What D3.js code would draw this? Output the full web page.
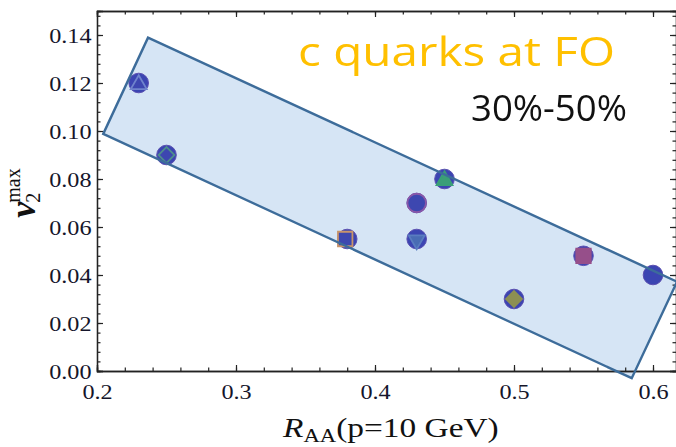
<!DOCTYPE html>
<html><head><meta charset="utf-8">
<script src="https://cdn.jsdelivr.net/npm/d3@7"></script>
<style>
html,body{margin:0;padding:0;background:#fff;}
svg{display:block;}
</style></head>
<body>
<script>
// ---- data ----
const raa   = [0.23, 0.25, 0.38, 0.43, 0.43, 0.45, 0.50, 0.55, 0.60];
const v2max = [0.12, 0.09, 0.055, 0.07, 0.055, 0.08, 0.03, 0.048, 0.04];
const innerShape = ["triangle","diamond","square","circle","triangleDown","triangle","diamond","square","none"];
const bandX = [0.2045, 0.2367, 0.6173, 0.5847];
const bandY = [0.0988, 0.1389, 0.0372, -0.003];
const xMajor = [0.2, 0.3, 0.4, 0.5, 0.6];
const xMinor = d3.range(0.2, 0.62, 0.02);
const yMajor = [0, 0.02, 0.04, 0.06, 0.08, 0.10, 0.12, 0.14];
const yMinor = d3.range(0, 0.1501, 0.004);
const titleText = "c quarks at FO";
const centText = "30%-50%";

// ---- styles ----
const innerFill   = ["#3e46b0","#3e46b0","#3e46b0","#3e46b0","#4a6cb4","#3a9e78","#8d8f52","#96508a",null];
const innerStroke = ["#6f84cc","#4f8f8c","#c8946a","#8a58a8","#5a7cc0","#3a9e78","#8d8f52","#96508a",null];

const W = 676, H = 447;
const L = 97, R = 677, T = 11, B = 371;
const x = d3.scaleLinear().domain([0.2, 0.2 + (R - L) / 1390]).range([L, R]);
const y = d3.scaleLinear().domain([0, 0.15]).range([B, T]);

const svg = d3.select("body").append("svg").attr("width", W).attr("height", H);

// band fill
const band = bandX.map((d, i) => [x(d), y(bandY[i])]);
svg.append("path").attr("d", "M" + band.join("L") + "Z")
  .attr("fill", "#d6e5f5").attr("stroke", "none");

// frame & axes
function styleAxis(g) {
  g.select(".domain").attr("stroke", "#222").attr("stroke-width", 1.3);
  g.selectAll(".tick line").attr("stroke", "#222").attr("stroke-width", 1.2);
}
const fmtY = d3.format(".2f"), fmtX = d3.format(".1f");
// bottom
svg.append("g").attr("transform", `translate(0,${B})`)
  .call(d3.axisBottom(x).tickValues(xMinor).tickSize(-3.5).tickFormat("")).call(styleAxis);
const gb = svg.append("g").attr("transform", `translate(0,${B})`)
  .call(d3.axisBottom(x).tickValues(xMajor).tickSize(-6).tickPadding(12).tickFormat(fmtX)).call(styleAxis);
// top
svg.append("g").attr("transform", `translate(0,${T})`)
  .call(d3.axisTop(x).tickValues(xMinor).tickSize(-3.5).tickFormat("")).call(styleAxis);
svg.append("g").attr("transform", `translate(0,${T})`)
  .call(d3.axisTop(x).tickValues(xMajor).tickSize(-6).tickFormat("")).call(styleAxis);
// left
svg.append("g").attr("transform", `translate(${L},0)`)
  .call(d3.axisLeft(y).tickValues(yMinor).tickSize(-3.5).tickFormat("")).call(styleAxis);
const gl = svg.append("g").attr("transform", `translate(${L},0)`)
  .call(d3.axisLeft(y).tickValues(yMajor).tickSize(-6).tickPadding(5).tickFormat(fmtY)).call(styleAxis);
// right
svg.append("g").attr("transform", `translate(${R - 1},0)`)
  .call(d3.axisRight(y).tickValues(yMinor).tickSize(-3.5).tickFormat("")).call(styleAxis);
svg.append("g").attr("transform", `translate(${R - 1},0)`)
  .call(d3.axisRight(y).tickValues(yMajor).tickSize(-6).tickFormat("")).call(styleAxis);

[gb, gl].forEach(g => g.selectAll(".tick text")
  .attr("font-family", "'Liberation Serif','Times New Roman',serif")
  .attr("font-size", 22).attr("fill", "#15152a"));
gb.selectAll(".tick text").attr("dy", "0.71em").attr("transform", "scale(1.1,1)");
gl.selectAll(".tick text").attr("x", -5).attr("transform", "scale(1.1,1)");

// points
const defs = svg.append("defs");
defs.append("filter").attr("id", "soft").attr("x", "-30%").attr("y", "-30%").attr("width", "160%").attr("height", "160%")
  .append("feGaussianBlur").attr("stdDeviation", 0.55);

const pts = svg.append("g").attr("filter", "url(#soft)");
raa.forEach((d, i) => {
  const cx = x(d), cy = y(v2max[i]);
  const g = pts.append("g").attr("transform", `translate(${cx},${cy})`);
  g.append("circle").attr("r", 9.8).attr("fill", "#3b44b2")
    .attr("stroke", "#5a4fb0").attr("stroke-width", 1);
  const s = innerShape[i];
  if (s === "none") return;
  let path;
  if (s === "triangle" || s === "triangleDown") path = d3.symbol(d3.symbolTriangle, 110)();
  else if (s === "diamond") path = d3.symbol(d3.symbolSquare, 125)();
  else if (s === "square") path = d3.symbol(d3.symbolSquare, 210)();
  else path = d3.symbol(d3.symbolCircle, 270)();
  const p = g.append("path").attr("d", path)
    .attr("fill", innerFill[i]).attr("stroke", innerStroke[i]).attr("stroke-width", 1.8);
  if (s === "triangle") p.attr("transform", "translate(0,1.5)");
  if (s === "triangleDown") p.attr("transform", "rotate(180) translate(0,-1)");
  if (s === "diamond") p.attr("transform", "rotate(45)");
  if (s === "square" && i === 2) p.attr("transform", "translate(-2,0)");
});

// band outline on top
svg.append("path").attr("d", "M" + band.join("L") + "Z")
  .attr("fill", "none").attr("stroke", "#3d6c9a").attr("stroke-width", 2.4).attr("stroke-linejoin", "miter");

// helper to fit text width
function fitText(sel, x0, y0, targetW) {
  const w = sel.node().getBBox().width;
  sel.attr("transform", `translate(${x0},${y0}) scale(${targetW / w},1)`);
}

// annotations
const t1 = svg.append("text").attr("font-family", "'Open Sans',Lato,sans-serif")
  .attr("font-size", 40).attr("fill", "#ffc000").text(titleText);
fitText(t1, 298, 66, 317);
const t2 = svg.append("text").attr("font-family", "'Open Sans',Lato,sans-serif")
  .attr("font-size", 36).attr("fill", "#111").text(centText);
fitText(t2, 471, 121, 156);

// x axis title
const xt = svg.append("text").attr("font-family", "'Liberation Serif','Times New Roman',serif")
  .attr("font-size", 28).attr("fill", "#111");
xt.append("tspan").attr("font-style", "italic").text("R");
xt.append("tspan").attr("font-size", 19).attr("dy", 5).text("AA");
xt.append("tspan").attr("dy", -5).text("(p=10 GeV)");
fitText(xt, 283, 437, 217);

// y axis title
const yt = svg.append("text").attr("font-family", "'Liberation Serif','Times New Roman',serif")
  .attr("font-size", 36).attr("fill", "#111");
yt.append("tspan").attr("font-style", "italic").attr("font-weight", "bold").text("v");
yt.append("tspan").attr("font-size", 20).attr("dy", 5).attr("dx", -1).text("2");
yt.append("tspan").attr("font-size", 20).attr("dy", -20).attr("dx", -10).text("max");
const yw = yt.node().getBBox().width;
yt.attr("transform", `translate(35,${193 + yw / 2}) rotate(-90)`);
</script>
</body></html>
